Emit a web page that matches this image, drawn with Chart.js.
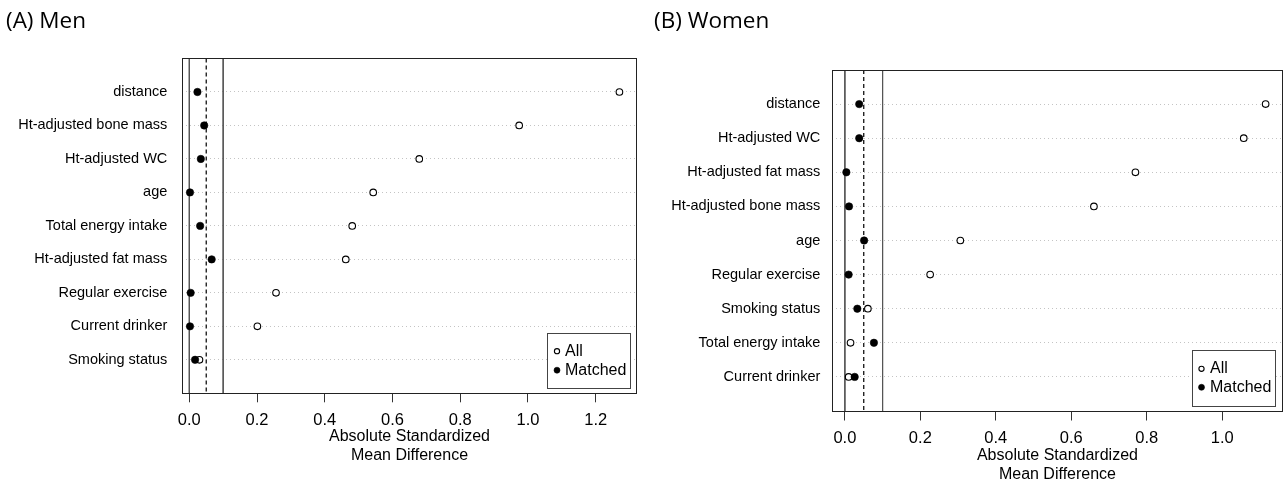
<!DOCTYPE html>
<html>
<head>
<meta charset="utf-8">
<script src="https://cdn.jsdelivr.net/npm/chart.js@4.4.1/dist/chart.umd.min.js"></script>
<style>
html,body{margin:0;padding:0;background:#fff;overflow:hidden;width:1287px;height:479px;position:relative;}
.wrap{position:absolute;top:0;}
#wrapA{left:0;width:643px;height:479px;}
#wrapB{left:643px;width:644px;height:500px;}
.ptitle{position:absolute;z-index:2;font-family:"Open Sans",sans-serif;font-size:22.5px;line-height:1;color:#000;white-space:nowrap;}
</style>
</head>
<body>
<div class="ptitle" style="left:6px;top:9px">(A) Men</div>
<div class="ptitle" style="left:654px;top:9px">(B) Women</div>
<div class="wrap" id="wrapA"><canvas id="cA" width="643" height="479" style="width:643px;height:479px"></canvas></div>
<div class="wrap" id="wrapB"><canvas id="cB" width="644" height="500" style="width:644px;height:500px"></canvas></div>
<script>
// ---------- data ----------
const menCategories = ["distance", "Ht-adjusted bone mass", "Ht-adjusted WC", "age", "Total energy intake",
  "Ht-adjusted fat mass", "Regular exercise", "Current drinker", "Smoking status"];
const menAll =     [1.270, 0.974, 0.679, 0.543, 0.481, 0.462, 0.256, 0.201, 0.030];
const menMatched = [0.024, 0.044, 0.034, 0.002, 0.032, 0.066, 0.004, 0.002, 0.017];
const menTicks = [0, 0.2, 0.4, 0.6, 0.8, 1.0, 1.2];

const womenCategories = ["distance", "Ht-adjusted WC", "Ht-adjusted fat mass", "Ht-adjusted bone mass", "age",
  "Regular exercise", "Smoking status", "Total energy intake", "Current drinker"];
const womenAll =     [1.115, 1.057, 0.770, 0.660, 0.306, 0.226, 0.061, 0.015, 0.010];
const womenMatched = [0.038, 0.038, 0.004, 0.011, 0.051, 0.010, 0.033, 0.077, 0.026];
const womenTicks = [0, 0.2, 0.4, 0.6, 0.8, 1.0];

const refLines = [0, 0.05, 0.1];
const seriesNames = ["All", "Matched"];
const axisTitle = ["Absolute Standardized", "Mean Difference"];

// ---------- plugins ----------
const FONT = '"Liberation Sans", Arial, Helvetica, sans-serif';
Chart.defaults.font.family = FONT;
Chart.defaults.color = '#000';

const frame = {
  id: 'frame',
  afterDraw(chart) {
    const a = chart.chartArea, ctx = chart.ctx;
    const l = Math.floor(a.left) + 0.5, r = Math.floor(a.right) + 0.5;
    const t = Math.floor(a.top) + 0.5, b = Math.floor(a.bottom) + 0.5;
    ctx.save();
    ctx.strokeStyle = '#222';
    ctx.lineWidth = 1;
    ctx.strokeRect(l, t, r - l, b - t);
    ctx.restore();
  }
};

const insetLegend = {
  id: 'insetLegend',
  afterDatasetsDraw(chart, args, o) {
    const a = chart.chartArea, ctx = chart.ctx;
    const x1 = Math.floor(a.right - o.insetRight) + 0.5, x0 = x1 - o.width;
    const y1 = Math.floor(a.bottom - o.insetBottom) + 0.5, y0 = y1 - o.height;
    ctx.save();
    ctx.fillStyle = '#fff';
    ctx.fillRect(x0, y0, o.width, o.height);
    ctx.strokeStyle = '#444';
    ctx.lineWidth = 1;
    ctx.strokeRect(x0, y0, o.width, o.height);
    const items = chart.data.datasets.filter(d => !d.isRef);
    items.forEach((d, k) => {
      const cy = y0 + o.firstRow + k * o.rowGap;
      const cx = x0 + o.markerX;
      ctx.beginPath();
      ctx.arc(cx, cy, d.legendRadius, 0, Math.PI * 2);
      ctx.fillStyle = d.backgroundColor;
      ctx.fill();
      ctx.lineWidth = d.borderWidth;
      ctx.strokeStyle = d.borderColor;
      ctx.stroke();
      ctx.fillStyle = '#000';
      ctx.font = '16px ' + FONT;
      ctx.textBaseline = 'middle';
      ctx.textAlign = 'left';
      ctx.fillText(d.label, x0 + o.textX, cy);
    });
    ctx.restore();
  }
};

function buildPanel(canvasId, p) {
  const n = p.categories.length;
  const datasets = [];
  refLines.forEach((v, k) => {
    datasets.push({
      label: 'ref' + k, isRef: true,
      data: [{x: v, y: 0}, {x: v, y: n + 1}],
      showLine: true, pointRadius: 0, pointHoverRadius: 0,
      borderWidth: k === 1 ? 1.3 : 1,
      borderColor: k === 1 ? '#111' : '#555',
      borderDash: k === 1 ? [4, 3] : [],
      order: 5
    });
  });
  datasets.push({
    label: seriesNames[0],
    data: p.all.map((v, i) => ({x: v, y: i + 1})),
    pointRadius: 3.3, pointHoverRadius: 3.3, borderWidth: 1.1,
    borderColor: '#000', backgroundColor: '#fff', order: 2, legendRadius: 2.6
  });
  datasets.push({
    label: seriesNames[1],
    data: p.matched.map((v, i) => ({x: v, y: i + 1})),
    pointRadius: 3.7, pointHoverRadius: 3.7, borderWidth: 0.6,
    borderColor: '#000', backgroundColor: '#000', order: 1, legendRadius: 3.0
  });

  return new Chart(document.getElementById(canvasId), {
    type: 'scatter',
    data: {datasets},
    plugins: [insetLegend, frame],
    options: {
      responsive: false,
      animation: false,
      events: [],
      layout: {padding: p.padding},
      plugins: {
        legend: {display: false},
        tooltip: {enabled: false},
        insetLegend: p.legend
      },
      scales: {
        x: {
          type: 'linear', min: p.xmin, max: p.xmax,
          afterBuildTicks: s => { s.ticks = p.ticks.map(v => ({value: v})); },
          afterFit: s => { s.height = p.xAxisHeight; },
          ticks: {
            autoSkip: false, maxRotation: 0, minRotation: 0,
            padding: 8, color: '#000',
            font: {size: 16.5, lineHeight: 1.2},
            callback: v => Number(v).toFixed(1)
          },
          grid: {drawOnChartArea: false, drawTicks: true, tickLength: p.tickLength, color: '#333', lineWidth: 1},
          border: {display: false},
          title: {
            display: true, text: axisTitle, color: '#000',
            font: {size: 16, lineHeight: 1.19},
            padding: {top: 0, bottom: p.titlePadBottom}
          }
        },
        y: {
          type: 'linear', reverse: true, min: 0, max: n + 1,
          afterBuildTicks: s => { s.ticks = p.categories.map((c, i) => ({value: i + 1})); },
          afterFit: s => { s.width = p.yAxisWidth; },
          ticks: {
            autoSkip: false, padding: p.labelPad, color: '#000',
            font: {size: 14.5},
            callback: (v, i) => p.categories[i]
          },
          grid: {drawTicks: false, color: '#c4c4c4', lineWidth: 1},
          border: {display: false, dash: [1, 3]}
        }
      }
    }
  });
}

buildPanel('cA', {
  categories: menCategories, all: menAll, matched: menMatched, ticks: menTicks,
  xmin: -0.0207, xmax: 1.321,
  padding: {top: 58.5, right: 6.3, bottom: 0, left: 0},
  xAxisHeight: 85.7, yAxisWidth: 182.3, labelPad: 15, tickLength: 9, titlePadBottom: 13.8,
  legend: {insetRight: 6.7, insetBottom: 5, width: 83, height: 55, firstRow: 17.7, rowGap: 19, markerX: 9.5, textX: 17.5}
});

buildPanel('cB', {
  categories: womenCategories, all: womenAll, matched: womenMatched, ticks: womenTicks,
  xmin: -0.0333, xmax: 1.160,
  padding: {top: 70, right: 0.5, bottom: 0, left: 0},
  xAxisHeight: 89, yAxisWidth: 189.3, labelPad: 12, tickLength: 9.5, titlePadBottom: 15.8,
  legend: {insetRight: 6.7, insetBottom: 4.5, width: 83, height: 56, firstRow: 18.3, rowGap: 18.5, markerX: 9, textX: 17.5}
});
</script>
</body>
</html>
